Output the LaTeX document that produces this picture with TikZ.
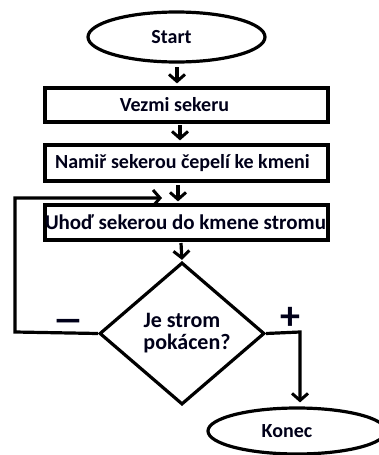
\documentclass[tikz,border=0pt]{standalone}
\usepackage{fontspec}
\setmainfont{Carlito}
\usetikzlibrary{shapes.geometric,arrows.meta}
\begin{document}
\begin{tikzpicture}[x=1pt,y=-1pt,
  line width=3.2pt,
  every node/.style={font=\bfseries\fontsize{20}{24}\selectfont, text=black!90!blue},
  term/.style={draw, ellipse, inner sep=0pt},
  stepbox/.style={draw, rectangle, minimum width=283pt, minimum height=34pt, inner sep=0pt},
  decision/.style={draw, diamond, minimum width=165pt, minimum height=137pt, inner sep=0pt, align=center, font=\bfseries\fontsize{22}{23}\selectfont},
  flow/.style={-{Straight Barb[length=7pt,width=16pt,line width=3pt]}, line width=3.2pt},
  lbl/.style={font=\bfseries\fontsize{40}{40}\selectfont}
]
\useasboundingbox (0,0) rectangle (379,455);
\node[term, minimum width=177pt, minimum height=50pt] (start) at (176.5,37) {Start\hspace*{10pt}};
\node[stepbox] (vezmi) at (186.5,105) {Vezmi sekeru\hspace*{24pt}};
\node[stepbox, minimum height=36pt] (namir) at (186.5,163) {Namiř sekerou čepelí ke kmeni\hspace*{8pt}};
\node[stepbox, minimum height=35pt, font=\bfseries\fontsize{21}{24}\selectfont] (uhod) at (186.5,222.5) {\hspace*{-2pt}Uhoď sekerou do kmene stromu};
\node[decision] (dec) at (182,333.5) {\raisebox{5pt}{\begin{tabular}{@{}c@{}}Je strom\\[-1pt]\hspace*{10pt}pokácen?\end{tabular}}};
\node[term, minimum width=178pt, minimum height=46pt] (konec) at (297,431) {Konec\hspace*{20pt}};

\coordinate (loopend) at (162,198);
\coordinate (a1) at (177,67);
\coordinate (a2) at (180,125);
\coordinate (a3) at (178,185);
\coordinate (a4) at (181,243);

\draw[flow, shorten >=3pt] (a1) -- (a1 |- vezmi.north);
\draw[flow, shorten >=3pt] (a2) -- (a2 |- namir.north);
\draw[flow, shorten >=2pt] (a3) -- (a3 |- uhod.north);
\draw[flow, shorten >=1pt] (a4) -- (dec.north);

\draw[flow] (dec.west) -- (15,332) -- (15,198) -- (loopend);
\draw[flow, shorten >=4pt] (dec.east) -- (300,332) -- (konec.north -| 300,0);

\node[lbl] (minus) at (68,326) {\scalebox{1.6}[1]{\textendash}};
\node[lbl] (plus) at (290,318) {+};
\end{tikzpicture}
\end{document}
